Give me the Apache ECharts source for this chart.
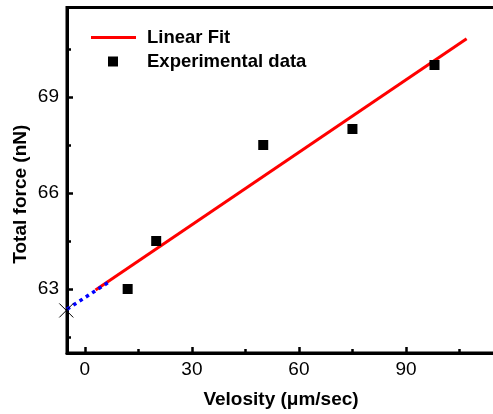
<!DOCTYPE html>
<html><head><meta charset="utf-8">
<script src="https://cdn.jsdelivr.net/npm/echarts@6/dist/echarts.min.js"></script>
<style>html,body{margin:0;padding:0;background:#fff}#c{width:493px;height:414px}</style>
</head><body><div id="c"></div>
<script>
const expX = [12, 20, 50, 75, 98];
const expY = [63, 64.5, 67.5, 68, 70];
const fitX = [3, 107];
const fitY = [62.97, 70.82];
const extX = [-5, 6.5];
const extY = [62.37, 63.2];
const crossX = [-5.2];
const crossY = [62.33];
const xMajor = [0, 30, 60, 90];
const xMinor = [15, 45, 75, 105];
const yMajor = [63, 66, 69];
const yMinor = [61.5, 64.5, 67.5, 70.5];

const zip = (a, b) => a.map((v, i) => [v, b[i]]);
const FONT = 'Liberation Sans, Arial, sans-serif';
const xRange = {min: -5, max: 120};
const yRange = {min: 61, max: 71.8};

const chart = echarts.init(document.getElementById('c'), null, {renderer: 'canvas'});
chart.setOption({
  animation: false,
  grid: {left: 67, top: 7.4, width: 446, height: 345.6, outerBoundsMode: 'none', containLabel: false,
         show: true, borderColor: '#000', borderWidth: 3, backgroundColor: 'transparent'},
  xAxis: [{
    type: 'value', ...xRange, position: 'bottom',
    name: 'Velosity (\u03bcm/sec)', nameLocation: 'middle', nameGap: 37,
    nameTextStyle: {fontFamily: FONT, fontWeight: 'bold', fontSize: 19, color: '#000', padding: [0, 18, 0, 0]},
    axisLine: {onZero: false, lineStyle: {color: '#000', width: 3}},
    axisTick: {inside: true, length: 6, lineStyle: {width: 2.5, color: '#000'}, customValues: xMajor},
    axisLabel: {fontFamily: FONT, fontSize: 19, color: '#000', margin: 7, customValues: xMajor},
    splitLine: {show: false}
  }, {
    type: 'value', ...xRange, position: 'bottom',
    axisLine: {show: false, onZero: false},
    axisTick: {inside: true, length: 4, lineStyle: {width: 2.5, color: '#000'}, customValues: xMinor},
    axisLabel: {show: false}, splitLine: {show: false}
  }],
  yAxis: [{
    type: 'value', ...yRange, position: 'left',
    name: 'Total force (nN)', nameLocation: 'middle', nameGap: 37, nameRotate: 90, nameMoveOverlap: false,
    nameTextStyle: {fontFamily: FONT, fontWeight: 'bold', fontSize: 19, color: '#000', padding: [0, 28, 0, 0]},
    axisLine: {onZero: false, lineStyle: {color: '#000', width: 3}},
    axisTick: {inside: true, length: 6, lineStyle: {width: 2.5, color: '#000'}, customValues: yMajor},
    axisLabel: {fontFamily: FONT, fontSize: 19, color: '#000', margin: 8, customValues: yMajor},
    splitLine: {show: false}
  }, {
    type: 'value', ...yRange, position: 'left',
    axisLine: {show: false, onZero: false},
    axisTick: {inside: true, length: 4, lineStyle: {width: 2.5, color: '#000'}, customValues: yMinor},
    axisLabel: {show: false}, splitLine: {show: false}
  }],
  legend: [{
    data: [{name: 'Linear Fit', icon: 'rect'}], left: 91, top: 28, padding: 0, itemWidth: 45, itemHeight: 3,
    itemStyle: {color: '#ff0000'},
    textStyle: {fontFamily: FONT, fontWeight: 'bold', fontSize: 18.5, color: '#000', padding: [0, 0, 0, 6]}
  }, {
    data: [{name: 'Experimental data', icon: 'rect'}], left: 108, top: 52, padding: 0, itemWidth: 10, itemHeight: 10,
    textStyle: {fontFamily: FONT, fontWeight: 'bold', fontSize: 18.5, color: '#000', padding: [0, 0, 0, 24]}
  }],
  series: [{
    name: 'Linear Fit', type: 'line', data: zip(fitX, fitY), symbol: 'none',
    lineStyle: {color: '#ff0000', width: 3}, itemStyle: {color: '#ff0000'}, z: 3
  }, {
    name: 'extrapolation', type: 'line', data: zip(extX, extY), symbol: 'none',
    lineStyle: {color: '#0000ff', width: 3.5, type: [3.5, 4]}, z: 4
  }, {
    name: 'Experimental data', type: 'scatter', data: zip(expX, expY), symbol: 'rect', symbolSize: 10,
    itemStyle: {color: '#000', opacity: 1}, z: 5
  }, {
    name: 'intercept', type: 'scatter', data: zip(crossX, crossY),
    symbol: 'path://M0,0L10,10M10,0L0,10', symbolSize: 14,
    itemStyle: {color: 'transparent', borderColor: '#000', borderWidth: 1, opacity: 1}, z: 6, clip: false
  }]
});
</script></body></html>
